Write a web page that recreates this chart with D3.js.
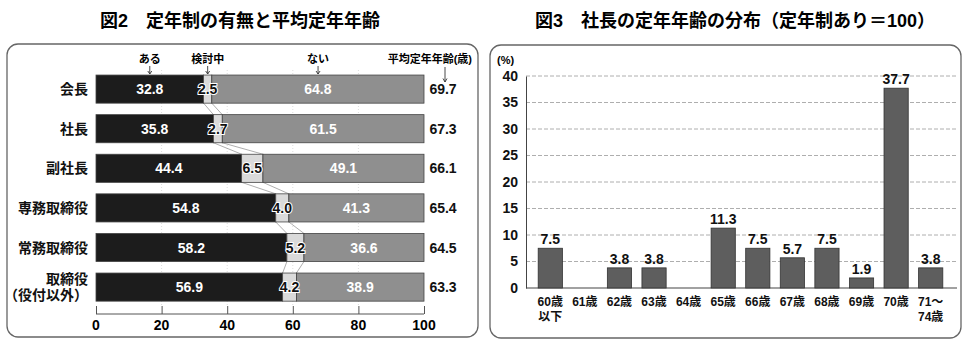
<!DOCTYPE html>
<html>
<head>
<meta charset="utf-8">
<script src="https://cdn.jsdelivr.net/npm/d3@7"></script>
<style>
  body { margin: 0; background: #fff; }
  svg { display: block; }
  text { font-family: "Liberation Sans", "Noto Sans CJK JP", sans-serif; }
</style>
</head>
<body>
<svg id="chart" width="970" height="354"></svg>
<script>
// fig 2: retirement system by position
const roles = ["会長", "社長", "副社長", "専務取締役", "常務取締役", "取締役\n（役付以外）"]
const aru = [32.8, 35.8, 44.4, 54.8, 58.2, 56.9]
const kento = [2.5, 2.7, 6.5, 4.0, 5.2, 4.2]
const nai = [64.8, 61.5, 49.1, 41.3, 36.6, 38.9]
const avgAge = [69.7, 67.3, 66.1, 65.4, 64.5, 63.3]
const seriesNames = ["ある", "検討中", "ない"]
const xTicks = [0, 20, 40, 60, 80, 100]

// fig 3: distribution of president retirement age
const ages = ["60歳\n以下", "61歳", "62歳", "63歳", "64歳", "65歳", "66歳", "67歳", "68歳", "69歳", "70歳", "71～\n74歳"]
const agePct = [7.5, 0, 3.8, 3.8, 0, 11.3, 7.5, 5.7, 7.5, 1.9, 37.7, 3.8]
const yTicks = [0, 5, 10, 15, 20, 25, 30, 35, 40]

const colors = {
    aru: '#1c1c1c',
    kento: '#dadada',
    nai: '#8f8f8f',
    bar: '#5e5e5e',
    stroke: '#444',
    frame: '#666'
}

const svg = d3.select('#chart')

// ---------- left panel ----------
const left = svg.append('g')

left.append('text')
    .attr('x', 240).attr('y', 27)
    .attr('text-anchor', 'middle')
    .attr('font-size', 18).attr('font-weight', 'bold')
    .text('図2　定年制の有無と平均定年年齢')

left.append('rect')
    .attr('x', 7).attr('y', 44).attr('width', 471).attr('height', 293)
    .attr('rx', 11)
    .attr('fill', 'none').attr('stroke', colors.frame).attr('stroke-width', 1.3)

const x = d3.scaleLinear().domain([0, 100]).range([96, 424])
const y = d3.scaleBand().domain(roles).range([69.3, 306.9])
    .paddingInner(0.29).paddingOuter(0.145)

// faint grid
left.append('g').selectAll('line')
    .data(xTicks.slice(1, -1))
    .join('line')
    .attr('x1', d => x(d)).attr('x2', d => x(d))
    .attr('y1', 70).attr('y2', 306)
    .attr('stroke', '#ddd').attr('stroke-dasharray', '1,2')

const rows = roles.map((r, i) => {
    const segs = [aru[i], kento[i], nai[i]]
    let acc = 0
    return segs.map((v, j) => {
        const s = { role: r, i, j, v, x0: acc, x1: Math.min(100, acc + v) }
        acc += v
        return s
    })
})

// connector lines between bars
const conn = []
for (let i = 0; i < roles.length - 1; i++) {
    conn.push([aru[i], aru[i + 1], i])
    conn.push([aru[i] + kento[i], aru[i + 1] + kento[i + 1], i])
}
left.append('g').selectAll('line')
    .data(conn)
    .join('line')
    .attr('x1', d => x(d[0])).attr('x2', d => x(d[1]))
    .attr('y1', d => y(roles[d[2]]) + y.bandwidth())
    .attr('y2', d => y(roles[d[2] + 1]))
    .attr('stroke', '#999').attr('stroke-width', 0.8)

const segFill = [colors.aru, colors.kento, colors.nai]
const segG = left.append('g')
segG.selectAll('rect')
    .data(rows.flat())
    .join('rect')
    .attr('x', d => x(d.x0))
    .attr('y', d => y(d.role))
    .attr('width', d => x(d.x1) - x(d.x0))
    .attr('height', y.bandwidth())
    .attr('fill', d => segFill[d.j])
    .attr('stroke', colors.stroke).attr('stroke-width', 0.8)

segG.selectAll('text')
    .data(rows.flat())
    .join('text')
    .attr('x', d => x((d.x0 + d.x1) / 2))
    .attr('y', d => y(d.role) + y.bandwidth() / 2 + 5)
    .attr('text-anchor', 'middle')
    .attr('font-size', 14).attr('font-weight', 'bold')
    .attr('fill', d => d.j === 1 ? '#111' : '#fff')
    .attr('stroke', d => d.j === 1 ? '#fff' : 'none')
    .attr('stroke-width', 2).attr('paint-order', 'stroke')
    .text(d => d.v.toFixed(1))

// category labels
left.append('g').selectAll('text')
    .data(roles)
    .join('text')
    .attr('text-anchor', 'end')
    .attr('font-size', 14).attr('font-weight', 'bold')
    .attr('fill', '#111')
    .each(function (d) {
        const lines = d.split('\n')
        const cy = y(d) + y.bandwidth() / 2
        d3.select(this).selectAll('tspan')
            .data(lines)
            .join('tspan')
            .attr('x', 88)
            .attr('y', (l, k) => cy + 5 + (k - (lines.length - 1) / 2) * 16)
            .text(l => l)
    })

// average ages
left.append('g').selectAll('text')
    .data(avgAge)
    .join('text')
    .attr('x', 443)
    .attr('y', (d, i) => y(roles[i]) + y.bandwidth() / 2 + 5)
    .attr('text-anchor', 'middle')
    .attr('font-size', 14).attr('font-weight', 'bold')
    .attr('fill', '#111')
    .text(d => d.toFixed(1))

// header labels with arrows
const heads = [
    { t: seriesNames[0], x: x(aru[0] / 2) },
    { t: seriesNames[1], x: x(aru[0] + kento[0] / 2) },
    { t: seriesNames[2], x: x(aru[0] + kento[0] + nai[0] / 2) }
]
const headG = left.append('g')
headG.selectAll('text')
    .data(heads)
    .join('text')
    .attr('x', d => d.x).attr('y', 63)
    .attr('text-anchor', 'middle')
    .attr('font-size', 11).attr('font-weight', 'bold')
    .text(d => d.t)
headG.selectAll('path')
    .data(heads)
    .join('path')
    .attr('d', d => `M${d.x},66V74M${d.x - 2},71L${d.x},74L${d.x + 2},71`)
    .attr('stroke', '#333').attr('fill', 'none').attr('stroke-width', 0.9)

headG.append('text')
    .attr('x', 472).attr('y', 63)
    .attr('text-anchor', 'end')
    .attr('font-size', 11).attr('font-weight', 'bold')
    .text('平均定年年齢(歳)')
headG.append('path')
    .attr('d', 'M445,67V82M443,78.5L445,82L447,78.5')
    .attr('stroke', '#333').attr('fill', 'none').attr('stroke-width', 0.9)

// x axis
const xAxis = left.append('g')
    .attr('transform', 'translate(0,314)')
    .call(d3.axisTop(x).tickValues(xTicks).tickSize(8).tickFormat(''))
xAxis.select('.domain').attr('d', `M${x(0)},0H${x(100)}`).attr('stroke', '#555')
xAxis.selectAll('line').attr('stroke', '#555')
left.append('g').selectAll('text')
    .data(xTicks)
    .join('text')
    .attr('x', d => x(d)).attr('y', 330)
    .attr('text-anchor', 'middle')
    .attr('font-size', 14).attr('font-weight', 'bold')
    .text(d => d)

// ---------- right panel ----------
const right = svg.append('g')

right.append('text')
    .attr('x', 735).attr('y', 27)
    .attr('text-anchor', 'middle')
    .attr('font-size', 18).attr('font-weight', 'bold')
    .text('図3　社長の定年年齢の分布（定年制あり＝100）')

right.append('rect')
    .attr('x', 490).attr('y', 45).attr('width', 471).attr('height', 293)
    .attr('rx', 11)
    .attr('fill', 'none').attr('stroke', colors.frame).attr('stroke-width', 1.3)

const bx = d3.scaleBand().domain(ages).range([533, 948]).paddingInner(0.3).paddingOuter(0.15)
const by = d3.scaleLinear().domain([0, 40]).range([288, 76])

// grid
right.append('g').selectAll('line')
    .data(yTicks.slice(1))
    .join('line')
    .attr('x1', 526).attr('x2', 957)
    .attr('y1', d => by(d)).attr('y2', d => by(d))
    .attr('stroke', '#999').attr('stroke-width', 0.8)
    .attr('stroke-dasharray', '4,2')

const yAxis = right.append('g')
    .attr('transform', 'translate(526,0)')
    .call(d3.axisLeft(by).tickValues(yTicks).tickSize(0).tickPadding(8))
yAxis.select('.domain').attr('stroke', '#444')
yAxis.selectAll('text')
    .attr('font-size', 14).attr('font-weight', 'bold')
    .attr('fill', '#111')
    .style('font-family', '"Liberation Sans", sans-serif')

right.append('line')
    .attr('x1', 526).attr('x2', 957)
    .attr('y1', by(0)).attr('y2', by(0))
    .attr('stroke', '#444').attr('stroke-width', 1.2)

right.append('text')
    .attr('x', 497).attr('y', 64)
    .attr('font-size', 11).attr('font-weight', 'bold')
    .text('(%)')

const barData = ages.map((a, i) => ({ a, v: agePct[i] })).filter(d => d.v > 0)

right.append('g').selectAll('rect')
    .data(barData)
    .join('rect')
    .attr('x', d => bx(d.a))
    .attr('y', d => by(d.v))
    .attr('width', bx.bandwidth())
    .attr('height', d => by(0) - by(d.v))
    .attr('fill', colors.bar)
    .attr('stroke', '#333').attr('stroke-width', 0.8)

right.append('g').selectAll('text')
    .data(barData)
    .join('text')
    .attr('x', d => bx(d.a) + bx.bandwidth() / 2)
    .attr('y', d => by(d.v) - 4)
    .attr('text-anchor', 'middle')
    .attr('font-size', 14).attr('font-weight', 'bold')
    .attr('fill', '#111')
    .text(d => d.v.toFixed(1))

right.append('g').selectAll('text')
    .data(ages)
    .join('text')
    .attr('text-anchor', 'middle')
    .attr('font-size', 12).attr('font-weight', 'bold')
    .attr('fill', '#111')
    .each(function (d) {
        const cx = bx(d) + bx.bandwidth() / 2
        d3.select(this).selectAll('tspan')
            .data(d.split('\n'))
            .join('tspan')
            .attr('x', cx)
            .attr('y', (l, k) => 306 + k * 15)
            .text(l => l)
    })
</script>
</body>
</html>
